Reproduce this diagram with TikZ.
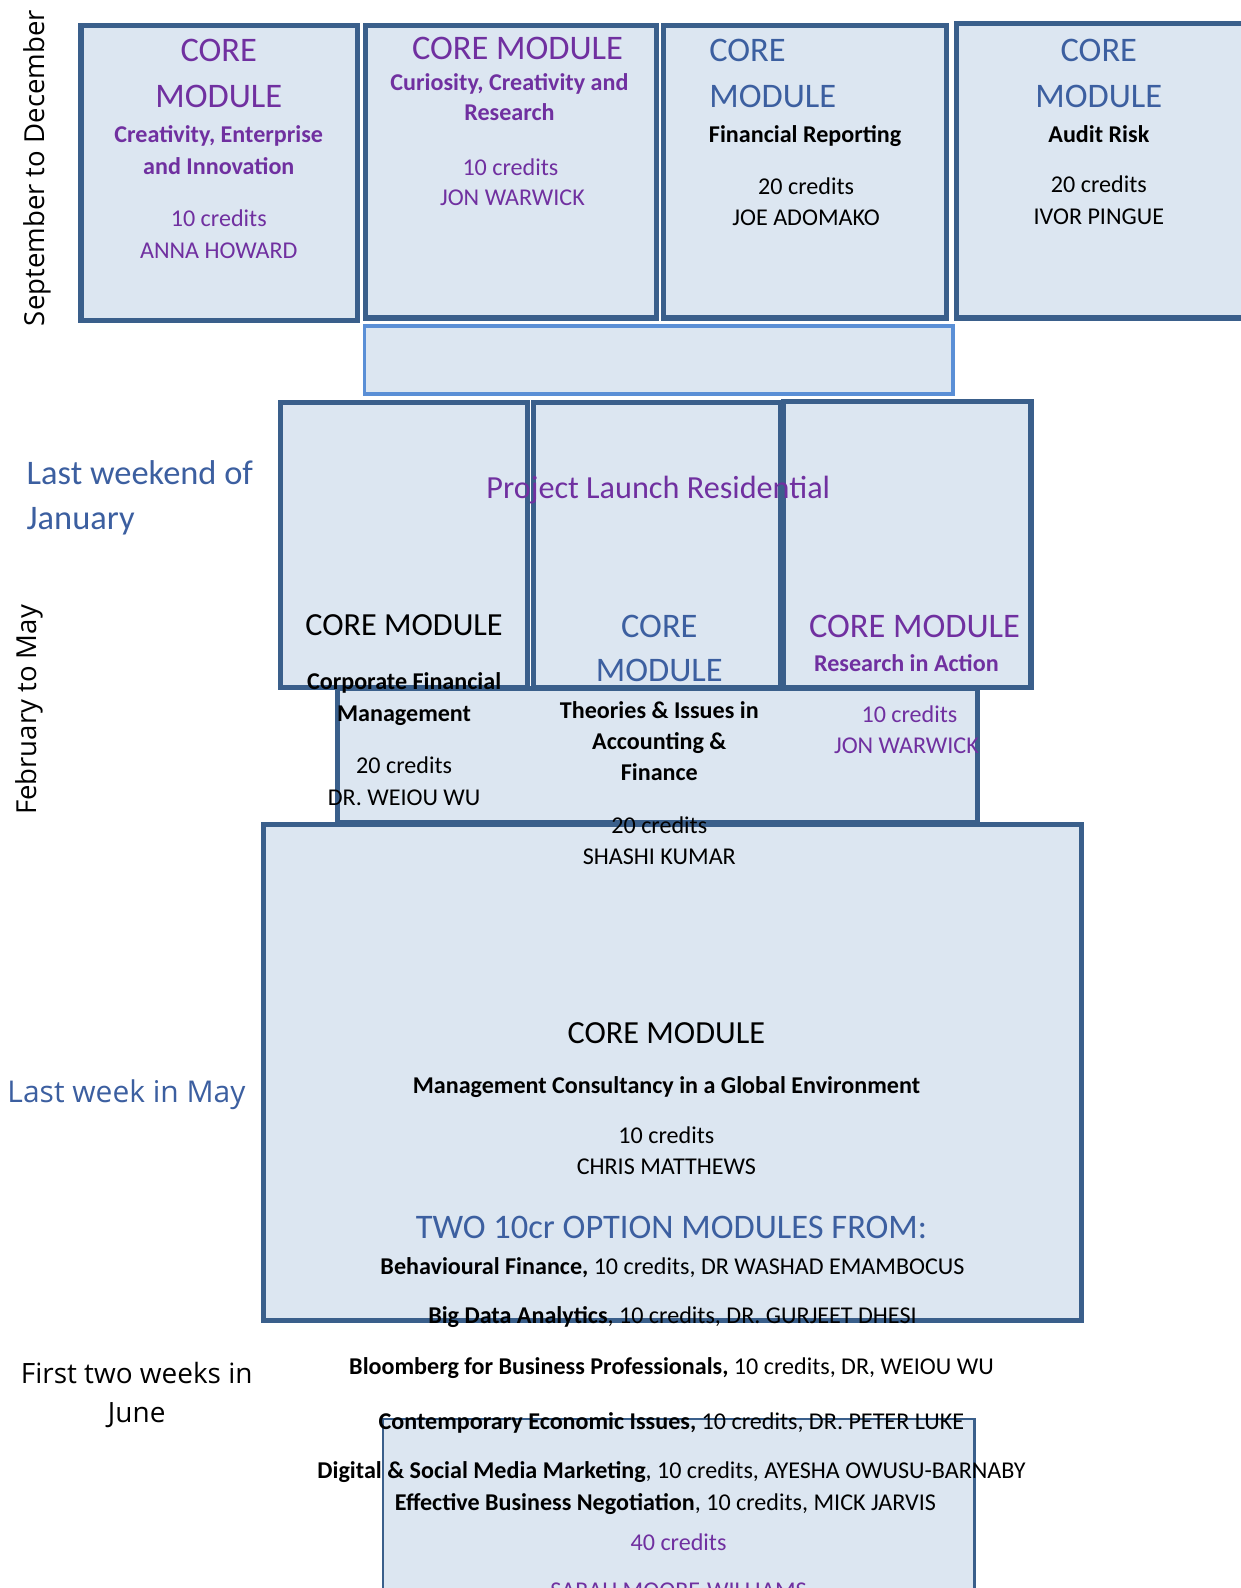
\documentclass[tikz,border=0pt]{standalone}
\usepackage{fontspec}
\setmainfont{Carlito}
\newfontfamily\osans{Open Sans}
\definecolor{pur}{HTML}{7030A0}
\definecolor{blu}{HTML}{3C5FA0}
\definecolor{bord}{HTML}{3A5F8B}
\definecolor{lbord}{HTML}{5A8FD6}
\definecolor{fillc}{HTML}{DCE6F1}
\tikzset{
  mod/.style={draw=bord, fill=fillc, line width=2.5pt},
  lmod/.style={draw=lbord, fill=fillc, line width=1.6pt},
  thin/.style={draw=bord, fill=fillc, line width=1.3pt},
  tx/.style={anchor=base, inner sep=0pt},
  hd/.style={tx, font=\fontsize{17}{20}\selectfont},
  hdb/.style={tx, font=\fontsize{15.9}{19}\selectfont},
  pl/.style={tx, font=\fontsize{15.9}{19}\selectfont},
  rg/.style={tx, font=\fontsize{11.9}{14}\selectfont},
  bd/.style={tx, font=\fontsize{11.9}{14}\selectfont\bfseries},
  side/.style={inner sep=0pt, font=\osans\fontsize{13.6}{16}\selectfont},
}
\begin{document}
\begin{tikzpicture}[x=0.5pt, y=-0.5pt]
\useasboundingbox (0,0) rectangle (1225,1568);
% boxes
\draw[mod] (80,25) rectangle (353,316);
\draw[mod] (361,25) rectangle (648,314);
\draw[mod] (655,25) rectangle (935,314);
\draw[mod] (944,23) rectangle (1230,314);
\draw[lmod] (360,322) rectangle (941,389);
\draw[mod] (333,680) rectangle (965,812);
\draw[mod] (277,397) rectangle (521,679);
\draw[mod] (527,397) rectangle (771,679);
\draw[mod] (774,396) rectangle (1018,679);
\draw[mod] (260,814) rectangle (1068,1304);
\draw[thin] (378,1401) rectangle (962,1600);
% side labels
\node[side, rotate=90] (sep) at (37,166) {September to December};
\node[side, rotate=90] (feb) at (29,701) {February to May};
\node[hd, anchor=base west, text=blu] (lw1) at (26,478) {Last weekend of};
\node[hd, anchor=base west, text=blu] (lw2) at (26,523) {January};
\node[side, anchor=west, text=blu, font=\osans\fontsize{14.8}{18}\selectfont] (lwm) at (7,1081) {Last week in May};
\node[side, font=\osans\fontsize{13.8}{16}\selectfont] (ft1) at (135,1356) {First two weeks in};
\node[side, font=\osans\fontsize{13.8}{16}\selectfont] (ft2) at (135,1397) {June};
% box A
\node[hd, text=pur] (a1) at (216,61) {CORE};
\node[hd, text=pur] (a2) at (216,106) {MODULE};
\node[bd, text=pur] (a3) at (216,141) {Creativity, Enterprise};
\node[bd, text=pur] (a4) at (216,172) {and Innovation};
\node[rg, text=pur] (a5) at (216,224) {10 credits};
\node[rg, text=pur] (a6) at (216,255) {ANNA HOWARD};
% box B
\node[hd, text=pur] (b1) at (511,59) {CORE MODULE};
\node[bd, text=pur] (b2) at (503,89) {Curiosity, Creativity and};
\node[bd, text=pur] (b3) at (503,119) {Research};
\node[rg, text=pur] (b4) at (504,173) {10 credits};
\node[rg, text=pur] (b5) at (506,203) {JON WARWICK};
% box C
\node[hd, anchor=base west, text=blu] (c1) at (700,61) {CORE};
\node[hd, anchor=base west, text=blu] (c2) at (700,106) {MODULE};
\node[bd] (c3) at (795,141) {Financial Reporting};
\node[rg] (c4) at (796,192) {20 credits};
\node[rg] (c5) at (796,223) {JOE ADOMAKO};
% box D
\node[hd, text=blu] (d1) at (1085,61) {CORE};
\node[hd, text=blu] (d2) at (1085,106) {MODULE};
\node[bd] (d3) at (1085,141) {Audit Risk};
\node[rg] (d4) at (1085,190) {20 credits};
\node[rg] (d5) at (1085,222) {IVOR PINGUE};
% project launch
\node[pl, text=pur] (pr) at (650,492) {Project Launch Residential};
% box F
\node[hdb] (f1) at (399,627) {CORE MODULE};
\node[bd] (f2) at (399,681) {Corporate Financial};
\node[bd] (f3) at (399,712) {Management};
\node[rg] (f4) at (399,764) {20 credits};
\node[rg] (f5) at (399,795) {DR. WEIOU WU};
% box G
\node[hd, text=blu] (g1) at (651,629) {CORE};
\node[hd, text=blu] (g2) at (651,673) {MODULE};
\node[bd] (g3) at (651,709) {Theories \& Issues in};
\node[bd] (g4) at (651,740) {Accounting \&};
\node[bd] (g5) at (651,771) {Finance};
\node[rg] (g6) at (651,823) {20 credits};
\node[rg] (g7) at (651,854) {SHASHI KUMAR};
% box H
\node[hd, text=pur] (h1) at (903,629) {CORE MODULE};
\node[bd, text=pur] (h2) at (895,663) {Research in Action};
\node[rg, text=pur] (h3) at (898,713) {10 credits};
\node[rg, text=pur] (h4) at (895,744) {JON WARWICK};
% box J
\node[hdb] (j1) at (658,1030) {CORE MODULE};
\node[bd] (j2) at (658,1080) {Management Consultancy in a Global Environment};
\node[rg] (j3) at (658,1129) {10 credits};
\node[rg] (j4) at (658,1160) {CHRIS MATTHEWS};
\node[hd, text=blu] (j5) at (663,1223) {TWO 10cr OPTION MODULES FROM:};
\node[rg] (o1) at (664,1258) {\textbf{Behavioural Finance,} 10 credits, DR WASHAD EMAMBOCUS};
\node[rg] (o2) at (664,1307) {\textbf{Big Data Analytics}, 10 credits, DR. GURJEET DHESI};
\node[rg] (o3) at (663,1357) {\textbf{Bloomberg for Business Professionals,} 10 credits, DR, WEIOU WU};
\node[rg] (o4) at (663,1411) {\textbf{Contemporary Economic Issues,} 10 credits, DR. PETER LUKE};
\node[rg] (o5) at (663,1460) {\textbf{Digital \& Social Media Marketing}, 10 credits, AYESHA OWUSU-BARNABY};
\node[rg] (o6) at (657,1491) {\textbf{Effective Business Negotiation}, 10 credits, MICK JARVIS};
\node[rg, text=pur] (k1) at (670,1531) {40 credits};
\node[rg, text=pur] (k2) at (670,1578) {SARAH MOORE-WILLIAMS};
\end{tikzpicture}
\end{document}
